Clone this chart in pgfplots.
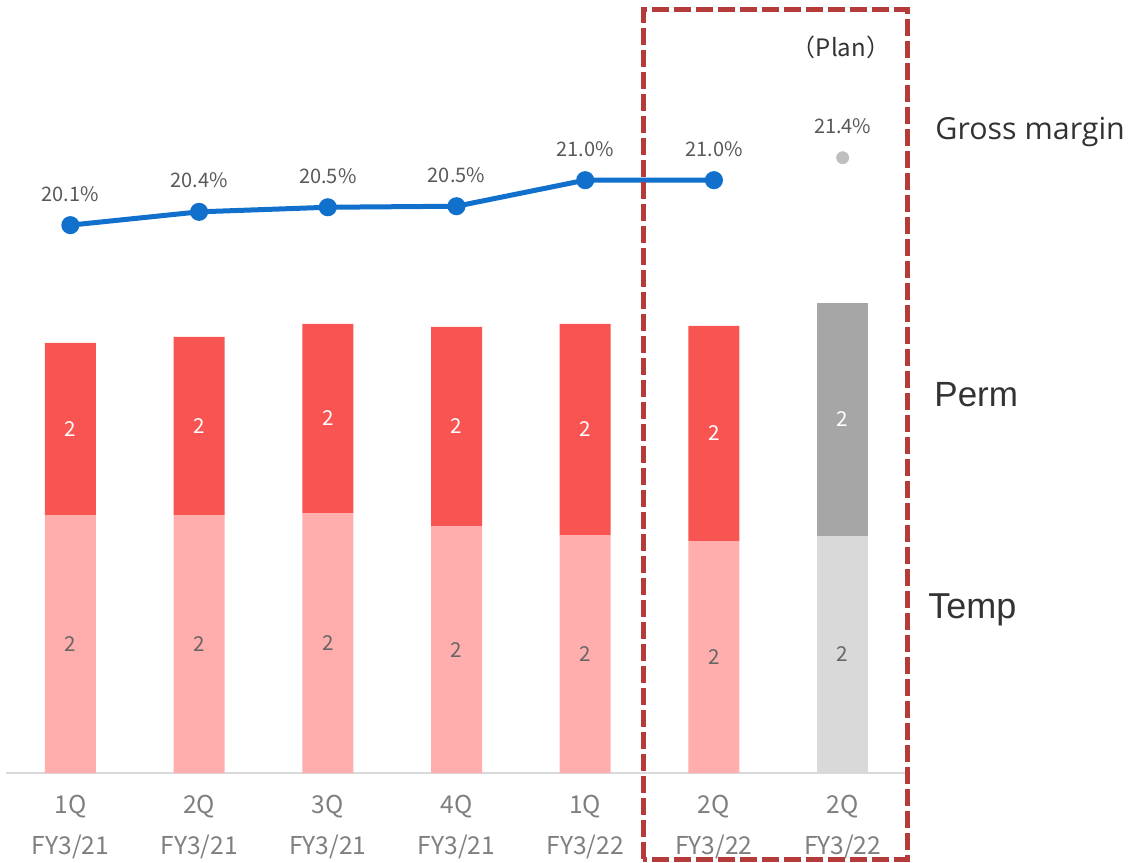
\documentclass[border=0pt]{standalone}
\usepackage{pgfplots}
\pgfplotsset{compat=1.18}
\usepackage{pgfplotstable}
\usepackage{fontspec}
\setmainfont{Noto Sans CJK JP}
\newfontfamily\gmfont{Open Sans}
\newfontfamily\libfont{Liberation Sans}
\definecolor{tempc}{HTML}{FFADAD}
\definecolor{permc}{HTML}{F85552}
\definecolor{gdark}{HTML}{A6A6A6}
\definecolor{glight}{HTML}{D9D9D9}
\definecolor{lineblue}{HTML}{1170CC}
\definecolor{gdot}{HTML}{BFBFBF}
\definecolor{dashred}{HTML}{B53A3A}
\definecolor{pcttext}{HTML}{595959}
\definecolor{ticktext}{HTML}{7F7F7F}
\definecolor{templab}{HTML}{666666}
\definecolor{darktext}{HTML}{333333}

\pgfplotstableread{
x temp perm gm
0 2.322 1.548 20.12
1 2.322 1.602 20.38
2 2.340 1.701 20.47
3 2.223 1.791 20.49
4 2.142 1.899 21.00
5 2.088 1.935 21.00
6 2.133 2.097 21.44
}\datatab

\begin{document}
\begin{tikzpicture}
\pgfplotsset{
  base/.style={
    width=450.5pt, height=381.5pt, scale only axis,
    xmin=-0.5, xmax=6.5, clip=false,
    /pgf/number format/assume math mode=true,
  }
}
% bars
\begin{axis}[base,
  ybar stacked, bar width=25.5pt,
  ymin=0, ymax=6.867,
  axis x line=bottom, axis y line=none,
  x axis line style={-, draw=glight, line width=1pt},
  xtick={0,...,6}, xtick style={draw=none},
  xticklabels={{1Q\\FY3/21},{2Q\\FY3/21},{3Q\\FY3/21},{4Q\\FY3/21},{1Q\\FY3/22},{2Q\\FY3/22},{2Q\\FY3/22}},
  xticklabel style={align=center, text=ticktext, font=\fontsize{12.3}{20.5}\selectfont, yshift=-5.5pt},
  ytick=\empty,
]
\addplot[fill=tempc, draw=none] coordinates {(0,2.322) (1,2.322) (2,2.340) (3,2.223) (4,2.142) (5,2.088) (6,0)};
\addplot[fill=glight, draw=none] coordinates {(0,0) (1,0) (2,0) (3,0) (4,0) (5,0) (6,2.133)};
\addplot[fill=permc, draw=none] coordinates {(0,1.548) (1,1.602) (2,1.701) (3,1.791) (4,1.899) (5,1.935) (6,0)};
\addplot[fill=gdark, draw=none] coordinates {(0,0) (1,0) (2,0) (3,0) (4,0) (5,0) (6,2.097)};
\end{axis}
% bar labels
\begin{axis}[base, ymin=0, ymax=6.867, hide axis]
\addplot[draw=none, mark=none, point meta=explicit,
  nodes near coords={\pgfmathprintnumber[fixed,precision=0]{\pgfplotspointmeta}},
  every node near coord/.style={anchor=base, yshift=-3.75pt, text=templab, font=\fontsize{10.3}{12}\selectfont}]
  table[x=x, y expr=\thisrow{temp}/2, meta=temp] {\datatab};
\addplot[draw=none, mark=none, point meta=explicit,
  nodes near coords={\pgfmathprintnumber[fixed,precision=0]{\pgfplotspointmeta}},
  every node near coord/.style={anchor=base, yshift=-3.75pt, text=white, font=\fontsize{10.3}{12}\selectfont}]
  table[x=x, y expr=\thisrow{temp}+\thisrow{perm}/2, meta=perm] {\datatab};
\end{axis}
% gross margin line
\begin{axis}[base, ymin=9.40, ymax=24.33, hide axis]
\addplot[lineblue, line width=2.5pt, mark=*, mark size=3.25pt, mark options={fill=lineblue, draw=lineblue},
  nodes near coords={\pgfmathprintnumber[fixed,fixed zerofill,precision=1]{\pgfplotspointmeta}\%},
  every node near coord/.style={anchor=base, yshift=12pt, text=pcttext, font=\fontsize{10}{12}\selectfont}]
  coordinates {(0,20.12) (1,20.38) (2,20.47) (3,20.49) (4,21.00) (5,21.00)};
\addplot[only marks, mark=*, mark size=3pt, mark options={fill=gdot, draw=gdot},
  nodes near coords={\pgfmathprintnumber[fixed,fixed zerofill,precision=1]{\pgfplotspointmeta}\%},
  every node near coord/.style={anchor=base, yshift=12pt, text=pcttext, font=\fontsize{10}{12}\selectfont}]
  coordinates {(6,21.44)};
\end{axis}
% dashed frame
\draw[dashred, line width=2.5pt, dash pattern=on 8.5pt off 2.5pt] (318.5pt,-43pt) rectangle (450.5pt,381.5pt);
% annotations
\node[anchor=base, inner sep=0, text=darktext, font=\fontsize{12}{14}\selectfont] at (417.5pt,358pt) {（Plan）};
\node[anchor=base west, inner sep=0, text=darktext, font=\gmfont\fontsize{15.2}{18}\selectfont] at (464.5pt,316.5pt) {Gross margin};
\node[anchor=base west, inner sep=0, text=darktext, font=\libfont\fontsize{17.5}{21}\selectfont] at (464pt,183pt) {Perm};
\node[anchor=base west, inner sep=0, text=darktext, font=\libfont\fontsize{18}{21}\selectfont] at (461pt,77.5pt) {Temp};
\pgfresetboundingbox
\useasboundingbox (-3pt,-44.5pt) rectangle (563.5pt,386.5pt);
\end{tikzpicture}
\end{document}
